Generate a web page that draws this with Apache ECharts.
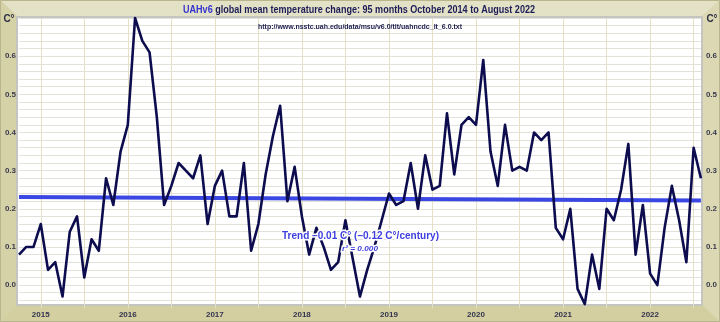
<!DOCTYPE html>
<html><head><meta charset="utf-8">
<script src="https://cdn.jsdelivr.net/npm/echarts@6/dist/echarts.min.js"></script>
<style>html,body{margin:0;padding:0;background:#d8d5ac;}#c{width:720px;height:322px;}</style>
</head><body><div id="c"></div>
<script>
const categories = [
 '2014-10','2014-11','2014-12',
 '2015-01','2015-02','2015-03','2015-04','2015-05','2015-06','2015-07','2015-08','2015-09','2015-10','2015-11','2015-12',
 '2016-01','2016-02','2016-03','2016-04','2016-05','2016-06','2016-07','2016-08','2016-09','2016-10','2016-11','2016-12',
 '2017-01','2017-02','2017-03','2017-04','2017-05','2017-06','2017-07','2017-08','2017-09','2017-10','2017-11','2017-12',
 '2018-01','2018-02','2018-03','2018-04','2018-05','2018-06','2018-07','2018-08','2018-09','2018-10','2018-11','2018-12',
 '2019-01','2019-02','2019-03','2019-04','2019-05','2019-06','2019-07','2019-08','2019-09','2019-10','2019-11','2019-12',
 '2020-01','2020-02','2020-03','2020-04','2020-05','2020-06','2020-07','2020-08','2020-09','2020-10','2020-11','2020-12',
 '2021-01','2021-02','2021-03','2021-04','2021-05','2021-06','2021-07','2021-08','2021-09','2021-10','2021-11','2021-12',
 '2022-01','2022-02','2022-03','2022-04','2022-05','2022-06','2022-07','2022-08'
];
const anomalies = [
 0.08,0.10,0.10,
 0.16,0.04,0.06,-0.03,0.14,0.18,0.02,0.12,0.09,0.28,0.21,0.35,
 0.42,0.70,0.64,0.61,0.44,0.21,0.26,0.32,0.30,0.28,0.34,0.16,
 0.26,0.30,0.18,0.18,0.32,0.09,0.16,0.29,0.39,0.47,0.22,0.31,
 0.18,0.08,0.15,0.10,0.04,0.06,0.17,0.07,-0.03,0.04,0.10,0.17,
 0.24,0.21,0.22,0.32,0.20,0.34,0.25,0.26,0.45,0.29,0.42,0.44,
 0.42,0.59,0.35,0.26,0.42,0.30,0.31,0.30,0.40,0.38,0.40,0.15,
 0.12,0.20,-0.01,-0.05,0.08,-0.01,0.20,0.17,0.25,0.37,0.08,0.21,
 0.03,0.00,0.15,0.26,0.17,0.06,0.36,0.28
];
const trendEnds = [0.231, 0.222];
const yTickLabels = ['0.0','0.1','0.2','0.3','0.4','0.5','0.6'];
const yearLabels = ['2015','2016','2017','2018','2019','2020','2021','2022'];
const titleLead = 'UAHv6';
const titleRest = ' global mean temperature change: 95 months October 2014 to August 2022';
const sourceUrl = 'http://www.nsstc.uah.edu/data/msu/v6.0/tlt/uahncdc_lt_6.0.txt';
const trendText = 'Trend \u20130.01 C\u00b0 (\u20130.12 C\u00b0/century)';
const r2Text = 'r\u00b2 = 0.000';
const unitLabel = 'C\u00b0';

const FAM = '"Liberation Sans", Arial, sans-serif';
const mctx = document.createElement('canvas').getContext('2d');
function fitScale(text, font, target){ mctx.font = font; return target / mctx.measureText(text).width; }

const titleFont = 'bold 11px ' + FAM;
const urlFont = 'bold 8px ' + FAM;
const trendFont = 'bold 11px ' + FAM;
const r2Font = 'italic bold 8px ' + FAM;

const trendSeries = categories.map((c, i) => i === 0 ? trendEnds[0] : (i === categories.length - 1 ? trendEnds[1] : null));

function yLabel(v){
  const k = Math.round(v * 100);
  if (k % 10 !== 0 || k < 0) return '';
  return yTickLabels[k / 10] || '';
}
const splitColors = ['transparent'];
for (let i = 0; i < 40; i++) splitColors.push('#e2e2da');

const W = 720, H = 322;
const chart = echarts.init(document.getElementById('c'), null, {renderer: 'canvas'});
chart.setOption({
  backgroundColor: '#d8d5ac',
  animation: false,
  grid: {left: 19, right: 19, top: 18, bottom: 14, containLabel: false},
  xAxis: {
    type: 'category', data: categories, boundaryGap: false,
    axisLine: {show: false}, axisTick: {show: false},
    axisLabel: {
      interval: (i, v) => v.slice(5) === '01',
      formatter: v => yearLabels.find(y => v.startsWith(y)) || '',
      fontSize: 8, fontWeight: 'bold', color: '#33334f', fontFamily: FAM, margin: 3
    },
    splitLine: {show: true, interval: (i, v) => v.slice(5) === '01' || v.slice(5) === '07',
      lineStyle: {color: '#e4e1c6', width: 1}}
  },
  yAxis: [{
    type: 'value', min: -0.06, max: 0.70, interval: 0.02, position: 'left',
    axisLine: {show: false}, axisTick: {show: false},
    axisLabel: {formatter: yLabel, fontSize: 8, fontWeight: 'bold', color: '#3a3a4e', fontFamily: FAM, margin: 3},
    splitLine: {show: true, lineStyle: {color: splitColors, width: 1}}
  }, {
    type: 'value', min: -0.06, max: 0.70, interval: 0.02, position: 'right',
    axisLine: {show: false}, axisTick: {show: false},
    axisLabel: {formatter: yLabel, fontSize: 8, fontWeight: 'bold', color: '#3a3a4e', fontFamily: FAM, margin: 5},
    splitLine: {show: false}
  }],
  series: [{
    name: 'Trend', type: 'line', data: trendSeries, connectNulls: true, symbol: 'none',
    lineStyle: {color: '#3a47e2', width: 4}, z: 2, silent: true
  }, {
    name: 'UAHv6', type: 'line', data: anomalies, symbol: 'none', clip: false,
    lineStyle: {color: '#0c0c4e', width: 2.6, join: 'round'}, z: 3, silent: true
  }],
  graphic: [
    {type: 'polygon', z: -20, shape: {points: [[0,0],[W,0],[702,16],[17,16]]}, style: {fill: '#e3e1c6'}},
    {type: 'polygon', z: -20, shape: {points: [[0,0],[17,16],[17,305],[0,H]]}, style: {fill: '#d6d2a8'}},
    {type: 'polygon', z: -20, shape: {points: [[W,0],[W,H],[702,305],[702,16]]}, style: {fill: '#dbd8b3'}},
    {type: 'polygon', z: -20, shape: {points: [[0,H],[17,305],[702,305],[W,H]]}, style: {fill: '#d3cfa0'}},
    {type: 'rect', z: -19, shape: {x: 0.5, y: 0.5, width: W - 1, height: H - 1}, style: {fill: 'none', stroke: '#b9b58c', lineWidth: 1}},
    {type: 'rect', z: -18, shape: {x: 17, y: 17, width: 685, height: 288}, style: {fill: '#ffffff', stroke: '#c4c4c0', lineWidth: 2}},
    {type: 'text', z: 100, x: 183, y: 10, scaleX: fitScale(titleLead + titleRest, titleFont, 352),
      style: {text: '{a|' + titleLead + '}{b|' + titleRest + '}', textAlign: 'left', textVerticalAlign: 'middle', verticalAlign: 'middle',
        rich: {a: {fill: '#3434d0', fontSize: 11, fontWeight: 'bold', fontFamily: FAM},
               b: {fill: '#1c1c58', fontSize: 11, fontWeight: 'bold', fontFamily: FAM}}}},
    {type: 'text', z: 100, x: 258, y: 27, scaleX: fitScale(sourceUrl, urlFont, 204),
      style: {text: sourceUrl, font: urlFont, fill: '#1c1c4c', textAlign: 'left', verticalAlign: 'middle'}},
    {type: 'text', z: 100, x: 9, y: 19, style: {text: unitLabel, font: 'bold 10px ' + FAM, fill: '#2e2e44', textAlign: 'center', verticalAlign: 'middle'}},
    {type: 'text', z: 100, x: 712, y: 19, style: {text: unitLabel, font: 'bold 10px ' + FAM, fill: '#2e2e44', textAlign: 'center', verticalAlign: 'middle'}},
    {type: 'text', z: 100, x: 282, y: 236, scaleX: fitScale(trendText, trendFont, 157),
      style: {text: trendText, font: trendFont, fill: '#3e3ee0', stroke: '#ffffff', lineWidth: 3, textAlign: 'left', verticalAlign: 'middle'}},
    {type: 'text', z: 100, x: 342, y: 249, scaleX: fitScale(r2Text, r2Font, 36),
      style: {text: r2Text, font: r2Font, fill: '#3e3ee0', stroke: '#ffffff', lineWidth: 3, textAlign: 'left', verticalAlign: 'middle'}}
  ]
});
</script>
</body></html>
